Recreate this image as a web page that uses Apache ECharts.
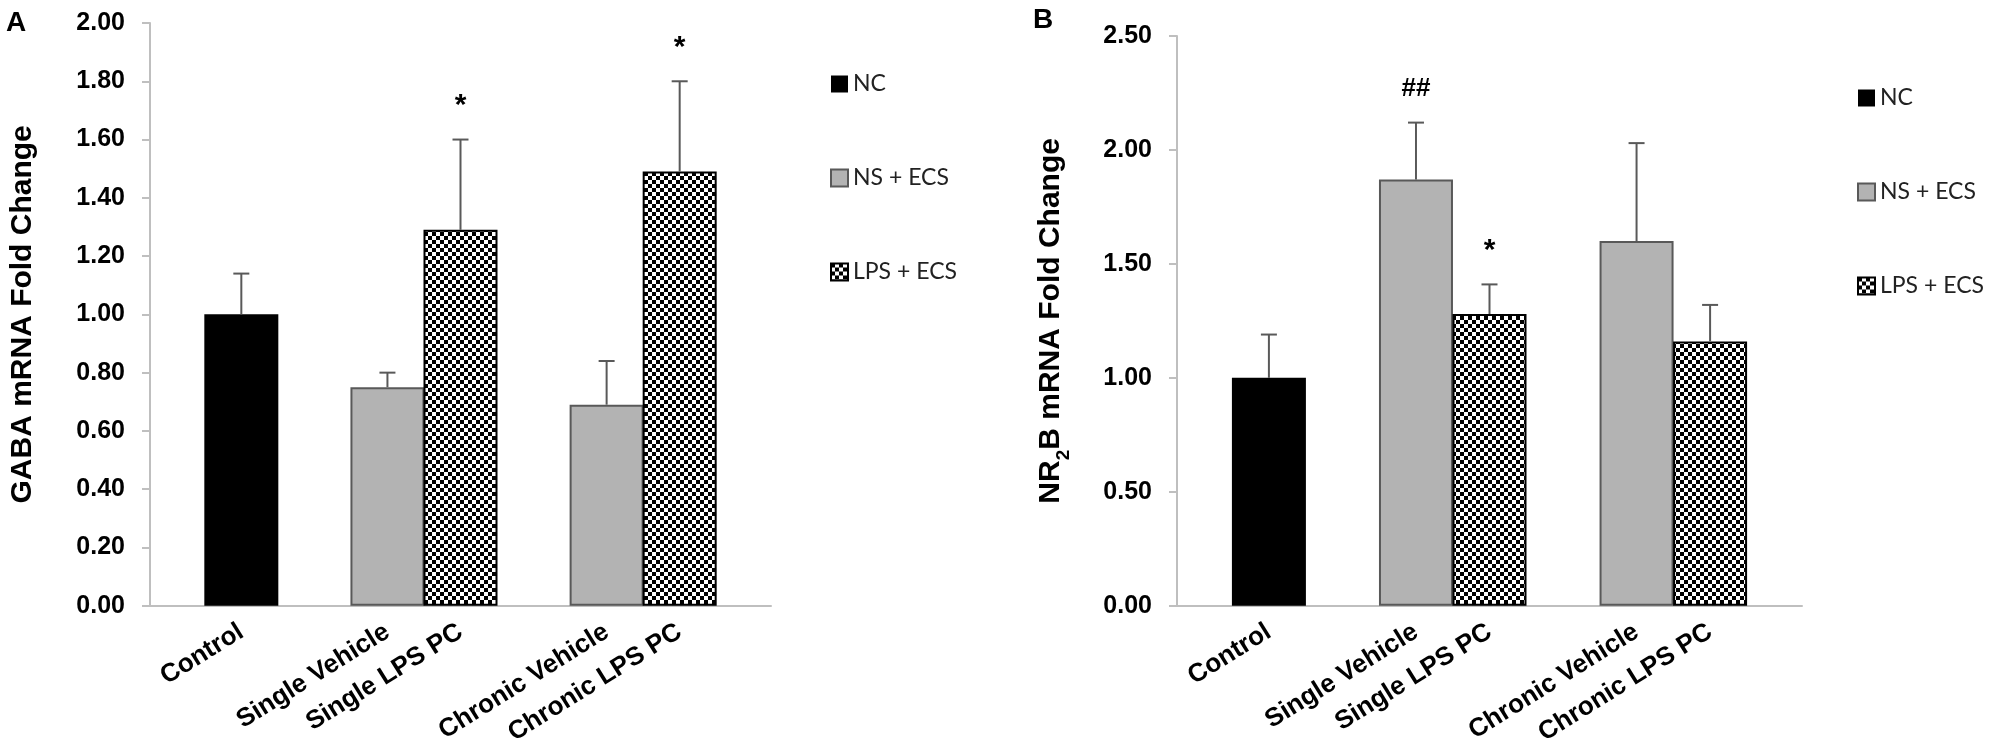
<!DOCTYPE html>
<html>
<head>
<meta charset="utf-8">
<script src="https://cdn.jsdelivr.net/npm/echarts@6/dist/echarts.min.js"></script>
<style>
  html, body { margin: 0; padding: 0; background: #fff; }
  #main { width: 2001px; height: 748px; }
</style>
</head>
<body>
<div id="main"></div>
<script>
// 数据
var categories = ['Control', 'Single Vehicle', 'Single LPS PC', 'Chronic Vehicle', 'Chronic LPS PC'];
var seriesNames = ['NC', 'NS + ECS', 'LPS + ECS'];
var groupOf = ['NC', 'NS + ECS', 'LPS + ECS', 'NS + ECS', 'LPS + ECS'];

var gabaMean = [1.00, 0.75, 1.29, 0.69, 1.49];
var gabaErr  = [0.14, 0.05, 0.31, 0.15, 0.31];
var gabaMark = ['', '', '*', '', '*'];

var nr2bMean = [1.00, 1.87, 1.28, 1.60, 1.16];
var nr2bErr  = [0.19, 0.25, 0.13, 0.43, 0.16];
var nr2bMark = ['', '##', '*', '', ''];

// 布局: 17个半宽槽位, 柱子占两个槽位
var slotCount = 17;
var slotIndex = [2, 6, 8, 12, 14];

var FONT = 'Liberation Sans, Arial, sans-serif';
var axisGray = '#bfbfbf';
var errGray = '#595959';

// 棋盘格填充
var cv = document.createElement('canvas');
cv.width = 8; cv.height = 8;
var cx = cv.getContext('2d');
cx.fillStyle = '#fff'; cx.fillRect(0, 0, 8, 8);
cx.fillStyle = '#000'; cx.fillRect(0, 0, 4, 4); cx.fillRect(4, 4, 4, 4);
var checker = { image: cv, repeat: 'repeat' };

var styles = {
    'NC':        { color: '#000', borderColor: '#000', borderWidth: 0 },
    'NS + ECS':  { color: '#b3b3b3', borderColor: errGray, borderWidth: 2 },
    'LPS + ECS': { color: checker, borderColor: '#000', borderWidth: 2 }
};

var axisLabels = [];
for (var s = 0; s < slotCount; s++) axisLabels.push('');
categories.forEach(function (c, i) { axisLabels[slotIndex[i]] = c; });

function slotData(values, name) {
    var arr = [];
    for (var k = 0; k < slotCount; k++) arr.push('-');
    values.forEach(function (v, i) { if (groupOf[i] === name) arr[slotIndex[i]] = v; });
    return arr;
}

function errorRender(marks) {
    return function (params, api) {
        var x = api.value(0), m = api.value(1), e = api.value(2);
        var p0 = api.coord([x, m]);
        var p1 = api.coord([x, m + e]);
        var kids = [
            { type: 'line', shape: { x1: p0[0], y1: p0[1], x2: p1[0], y2: p1[1] }, style: { stroke: errGray, lineWidth: 2 } },
            { type: 'line', shape: { x1: p1[0] - 8, y1: p1[1], x2: p1[0] + 8, y2: p1[1] }, style: { stroke: errGray, lineWidth: 2 } }
        ];
        var mk = marks[params.dataIndex];
        if (mk) {
            kids.push({
                type: 'text', x: p1[0], y: p1[1] - 34,
                style: { text: mk, fontSize: mk === '*' ? 30 : 26, fontWeight: 'bold', fontFamily: FONT,
                         fill: '#000', align: 'center', verticalAlign: 'middle' }
            });
        }
        return { type: 'group', children: kids };
    };
}

function xAxisOf(gi) {
    return {
        type: 'category', gridIndex: gi, data: axisLabels,
        axisLine: { lineStyle: { color: axisGray, width: 2 } },
        axisTick: { show: false },
        axisLabel: { interval: 0, rotate: 32, margin: 24, color: '#000', fontSize: 26, fontWeight: 'bold', fontFamily: FONT }
    };
}

function yAxisOf(gi, max, step, name, gap) {
    return {
        type: 'value', gridIndex: gi, min: 0, max: max, interval: step,
        name: name, nameLocation: 'middle', nameGap: gap,
        nameTextStyle: { color: '#000', fontSize: 30, fontWeight: 'bold', fontFamily: FONT, lineHeight: 44,
                         rich: { sub: { fontSize: 19, fontWeight: 'bold', fontFamily: FONT, verticalAlign: 'bottom', lineHeight: 44 } } },
        axisLine: { show: true, lineStyle: { color: axisGray, width: 2 } },
        axisTick: { show: true, length: 8, lineStyle: { color: axisGray, width: 2 } },
        splitLine: { show: false },
        axisLabel: { margin: 25, color: '#000', fontSize: 25, fontWeight: 'bold', fontFamily: FONT,
                     formatter: function (v) { return v.toFixed(2); } }
    };
}

function panelSeries(gi, mean, err, marks) {
    var out = [];
    seriesNames.forEach(function (n) {
        out.push({
            name: n, type: 'bar', xAxisIndex: gi, yAxisIndex: gi, stack: 'p' + gi,
            barWidth: 74, itemStyle: styles[n], data: slotData(mean, n)
        });
    });
    out.push({
        type: 'custom', xAxisIndex: gi, yAxisIndex: gi, z: 5,
        renderItem: errorRender(marks),
        encode: { x: 0, y: 1 },
        data: mean.map(function (m, i) { return [slotIndex[i], m, err[i]]; })
    });
    return out;
}

var legendBase = {
    orient: 'vertical', itemWidth: 17, itemHeight: 17, itemGap: 68, icon: 'rect',
    data: seriesNames,
    textStyle: { fontFamily: 'Lato, sans-serif', fontSize: 23, color: '#222', lineHeight: 26 }
};

var chart = echarts.init(document.getElementById('main'));
var option = {
    animation: false,
    backgroundColor: '#fff',
    title: [
        { text: 'A', left: 6, top: 9, padding: 0, textStyle: { fontSize: 28, fontWeight: 'bold', fontFamily: FONT, color: '#000' } },
        { text: 'B', left: 1033, top: 6, padding: 0, textStyle: { fontSize: 28, fontWeight: 'bold', fontFamily: FONT, color: '#000' } }
    ],
    legend: [
        Object.assign({}, legendBase, { left: 825, top: 66 }),
        Object.assign({}, legendBase, { left: 1852, top: 80 })
    ],
    grid: [
        { left: 148, top: 23, width: 623, height: 590 },
        { left: 1177, top: 36, width: 625, height: 593 }
    ],
    xAxis: [xAxisOf(0), xAxisOf(1)],
    yAxis: [
        yAxisOf(0, 2, 0.2, 'GABA mRNA Fold Change', 105),
        yAxisOf(1, 2.5, 0.5, 'NR{sub|2}B mRNA Fold Change', 104)
    ],
    series: panelSeries(0, gabaMean, gabaErr, gabaMark).concat(panelSeries(1, nr2bMean, nr2bErr, nr2bMark))
};
chart.setOption(option);
</script>
</body>
</html>
